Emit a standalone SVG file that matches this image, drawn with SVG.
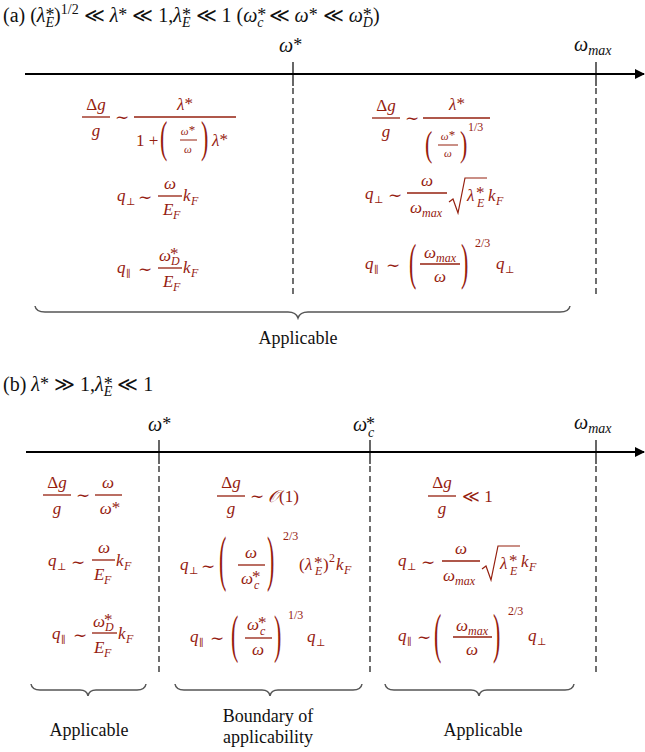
<svg xmlns="http://www.w3.org/2000/svg" width="645" height="752" viewBox="0 0 645 752">
<style>
text { font-family: "Liberation Serif", "DejaVu Serif", serif; }
.m { fill:#95200f; font-size:17px; }
.k { fill:#111; font-size:18px; }
.h { fill:#111; font-size:20px; }
.hs { font-size:14px; }
.ha { font-size:18px; font-style:normal; }
.i { font-style:italic; }
.s { font-size:12px; }
.st { font-size:17px; font-style:normal; }
.t { font-size:11px; }
.ta { font-size:13px; font-style:normal; }
.n { font-style:normal; }
.pr { fill:#95200f; font-size:22px; }
.bar { stroke:#95200f; stroke-width:1.3; }
.bar2 { stroke:#95200f; stroke-width:1; }
.rad { stroke:#95200f; stroke-width:1.2; fill:none; }
.ax { stroke:#000; stroke-width:2; }
.tick { stroke:#000; stroke-width:1.2; }
.dash { stroke:#222; stroke-width:1.3; stroke-dasharray:6 4; fill:none; }
.brace { stroke:#555; stroke-width:1.5; fill:none; }
</style>
<defs>
<marker id="arr" viewBox="0 0 10 10" refX="9" refY="5" markerWidth="5" markerHeight="5" orient="auto"><path d="M0,0 L10,5 L0,10 z" fill="#000"/></marker>
</defs>

<!-- Headers -->
<g id="header-a">
<text class="h" x="3" y="22">(a) (<tspan class="i">λ</tspan><tspan class="ha" dy="-1">*</tspan><tspan class="hs i" dx="-9" dy="6">E</tspan><tspan dy="-5">)</tspan><tspan class="hs" dy="-8">1/2</tspan><tspan dy="8"> ≪ </tspan><tspan class="i">λ</tspan><tspan class="ha" dy="-1">*</tspan><tspan dy="1"> ≪ 1,</tspan><tspan class="i">λ</tspan><tspan class="ha" dy="-1">*</tspan><tspan class="hs i" dx="-9" dy="6">E</tspan><tspan dy="-5"> ≪ 1 (</tspan><tspan class="i">ω</tspan><tspan class="ha" dy="-1">*</tspan><tspan class="hs i" dx="-9" dy="6">c</tspan><tspan dy="-5"> ≪ </tspan><tspan class="i">ω</tspan><tspan class="ha" dy="-1">*</tspan><tspan dy="1"> ≪ </tspan><tspan class="i">ω</tspan><tspan class="ha" dy="-1">*</tspan><tspan class="hs i" dx="-9" dy="6">D</tspan><tspan dy="-5">)</tspan></text>
</g>
<g id="header-b">
<text class="h" x="3" y="391">(b) <tspan class="i">λ</tspan><tspan class="ha" dy="-1">*</tspan><tspan dy="1"> ≫ 1,</tspan><tspan class="i">λ</tspan><tspan class="ha" dy="-1">*</tspan><tspan class="hs i" dx="-9" dy="6">E</tspan><tspan dy="-5"> ≪ 1</tspan></text>
</g>

<!-- Axes and connectors -->
<g id="connectors">
<line class="ax" x1="25" y1="74" x2="644" y2="74" marker-end="url(#arr)"/>
<line class="tick" x1="293" y1="62" x2="293" y2="86"/>
<line class="tick" x1="596" y1="62" x2="596" y2="86"/>
<line class="dash" x1="293" y1="88" x2="293" y2="297"/>
<line class="dash" x1="596" y1="88" x2="596" y2="297"/>
<line class="ax" x1="26" y1="452" x2="644" y2="452" marker-end="url(#arr)"/>
<line class="tick" x1="159" y1="440" x2="159" y2="464"/>
<line class="tick" x1="370" y1="440" x2="370" y2="464"/>
<line class="tick" x1="596" y1="440" x2="596" y2="464"/>
<line class="dash" x1="159" y1="466" x2="159" y2="673"/>
<line class="dash" x1="370" y1="466" x2="370" y2="673"/>
<line class="dash" x1="596" y1="466" x2="596" y2="673"/>
</g>

<!-- Axis labels -->
<g id="labels-a">
<text class="h i" x="279" y="52">ω<tspan class="ha" dy="-1">*</tspan></text>
<text class="h i" x="574" y="51">ω<tspan class="hs" dy="4">max</tspan></text>
</g>
<g id="labels-b">
<text class="h i" x="148" y="431">ω<tspan class="ha" dy="-1">*</tspan></text>
<text class="h i" x="353" y="431">ω</text><text class="ha" style="fill:#111" x="366" y="430">*</text><text class="hs i" style="fill:#111" x="368" y="437">c</text>
<text class="h i" x="574" y="429">ω<tspan class="hs" dy="4">max</tspan></text>
</g>

<!-- Panel (a) left -->
<g id="a-left">
<text class="m" x="96" y="110" text-anchor="middle">Δ<tspan class="i">g</tspan></text>
<text class="m i" x="96" y="136" text-anchor="middle">g</text>
<line class="bar" x1="82" y1="117" x2="110" y2="117"/>
<text class="m" x="122" y="123" text-anchor="middle">∼</text>
<line class="bar" x1="134" y1="117" x2="236" y2="117"/>
<text class="m i" x="185" y="110" text-anchor="middle">λ<tspan class="st" dy="-1">*</tspan></text>
<text class="m" x="136" y="146">1 +</text>
<text class="pr" transform="translate(160,152) scale(1,2.02)">(</text>
<text class="m t i" x="188" y="135" text-anchor="middle">ω<tspan class="ta" dy="-1">*</tspan></text>
<line class="bar2" x1="180" y1="140" x2="197" y2="140"/>
<text class="m t i" x="188" y="153" text-anchor="middle">ω</text>
<text class="pr" transform="translate(201,152) scale(1,2.02)">)</text>
<text class="m i" x="212" y="146">λ<tspan class="st" dy="-1">*</tspan></text>

<text class="m i" x="117" y="201">q</text><text class="m" style="font-size:10px" x="126" y="205">⊥</text>
<text class="m" x="145" y="203" text-anchor="middle">∼</text>
<line class="bar" x1="158" y1="196" x2="182" y2="196"/>
<text class="m i" x="170" y="189" text-anchor="middle">ω</text>
<text class="m i" x="163" y="215">E</text><text class="m s i" x="173" y="219">F</text>
<text class="m i" x="183" y="201">k</text><text class="m s i" x="191" y="205">F</text>

<text class="m i" x="117" y="273">q</text><text class="m" style="font-size:10px" x="126" y="277">∥</text>
<text class="m" x="145" y="275" text-anchor="middle">∼</text>
<line class="bar" x1="158" y1="268" x2="182" y2="268"/>
<text class="m i" x="159" y="261">ω</text><text class="m st" x="170" y="259">*</text><text class="m s i" x="171" y="265">D</text>
<text class="m i" x="163" y="287">E</text><text class="m s i" x="173" y="291">F</text>
<text class="m i" x="183" y="273">k</text><text class="m s i" x="191" y="277">F</text>
</g>

<!-- Panel (a) right -->
<g id="a-right">
<text class="m" x="386" y="111" text-anchor="middle">Δ<tspan class="i">g</tspan></text>
<text class="m i" x="386" y="137" text-anchor="middle">g</text>
<line class="bar" x1="372" y1="118" x2="400" y2="118"/>
<text class="m" x="412" y="124" text-anchor="middle">∼</text>
<line class="bar" x1="423" y1="118" x2="490" y2="118"/>
<text class="m i" x="457" y="110" text-anchor="middle">λ<tspan class="st" dy="-1">*</tspan></text>
<text class="pr" transform="translate(425,156) scale(1,1.6)">(</text>
<text class="m t i" x="448" y="140" text-anchor="middle">ω<tspan class="ta" dy="-1">*</tspan></text>
<line class="bar2" x1="438" y1="145" x2="458" y2="145"/>
<text class="m t i" x="448" y="157" text-anchor="middle">ω</text>
<text class="pr" transform="translate(460,156) scale(1,1.6)">)</text>
<text class="m s" x="468" y="131">1/3</text>

<text class="m i" x="365" y="199">q</text><text class="m" style="font-size:10px" x="374" y="203">⊥</text>
<text class="m" x="395" y="201" text-anchor="middle">∼</text>
<line class="bar" x1="407" y1="193" x2="447" y2="193"/>
<text class="m i" x="427" y="186" text-anchor="middle">ω</text>
<text class="m i" x="410" y="213">ω<tspan class="s" dy="4">max</tspan></text>
<path class="rad" d="M449,202 L453,199 L458,213 L465,178 L487,178"/>
<text class="m i" x="467" y="201">λ</text><text class="m st" x="476" y="198">*</text><text class="m s i" x="477" y="207">E</text>
<text class="m i" x="488" y="201">k</text><text class="m s i" x="496" y="205">F</text>

<text class="m i" x="365" y="269">q</text><text class="m" style="font-size:10px" x="374" y="273">∥</text>
<text class="m" x="393" y="271" text-anchor="middle">∼</text>
<text class="pr" transform="translate(409,279) scale(1,2.29)">(</text>
<line class="bar" x1="420" y1="264" x2="460" y2="264"/>
<text class="m i" x="424" y="258">ω<tspan class="s" dy="4">max</tspan></text>
<text class="m i" x="440" y="282" text-anchor="middle">ω</text>
<text class="pr" transform="translate(461,279) scale(1,2.29)">)</text>
<text class="m s" x="475" y="247">2/3</text>
<text class="m i" x="496" y="269">q</text><text class="m" style="font-size:10px" x="505" y="273">⊥</text>
</g>

<!-- Panel (b) left -->
<g id="b-left">
<text class="m" x="57" y="488" text-anchor="middle">Δ<tspan class="i">g</tspan></text>
<text class="m i" x="57" y="514" text-anchor="middle">g</text>
<line class="bar" x1="43" y1="495" x2="71" y2="495"/>
<text class="m" x="83" y="501" text-anchor="middle">∼</text>
<line class="bar" x1="95" y1="495" x2="122" y2="495"/>
<text class="m i" x="108" y="488" text-anchor="middle">ω</text>
<text class="m i" x="110" y="514" text-anchor="middle">ω<tspan class="st" dy="-1">*</tspan></text>

<text class="m i" x="48" y="566">q</text><text class="m" style="font-size:10px" x="57" y="570">⊥</text>
<text class="m" x="78" y="568" text-anchor="middle">∼</text>
<line class="bar" x1="92" y1="560" x2="115" y2="560"/>
<text class="m i" x="104" y="553" text-anchor="middle">ω</text>
<text class="m i" x="94" y="580">E</text><text class="m s i" x="104" y="584">F</text>
<text class="m i" x="116" y="566">k</text><text class="m s i" x="124" y="570">F</text>

<text class="m i" x="52" y="639">q</text><text class="m" style="font-size:10px" x="61" y="643">∥</text>
<text class="m" x="80" y="641" text-anchor="middle">∼</text>
<line class="bar" x1="92" y1="633" x2="117" y2="633"/>
<text class="m i" x="93" y="627">ω</text><text class="m st" x="104" y="625">*</text><text class="m s i" x="105" y="631">D</text>
<text class="m i" x="94" y="653">E</text><text class="m s i" x="104" y="657">F</text>
<text class="m i" x="118" y="639">k</text><text class="m s i" x="126" y="643">F</text>
</g>

<!-- Panel (b) middle -->
<g id="b-middle">
<text class="m" x="231" y="488" text-anchor="middle">Δ<tspan class="i">g</tspan></text>
<text class="m i" x="231" y="514" text-anchor="middle">g</text>
<line class="bar" x1="217" y1="496" x2="245" y2="496"/>
<text class="m" x="257" y="502" text-anchor="middle">∼</text>
<text class="m" x="268" y="502"><tspan class="i">𝒪</tspan>(1)</text>

<text class="m i" x="180" y="570">q</text><text class="m" style="font-size:10px" x="189" y="574">⊥</text>
<text class="m" x="208" y="572" text-anchor="middle">∼</text>
<text class="pr" transform="translate(219,579) scale(1,2.77)">(</text>
<line class="bar" x1="238" y1="565" x2="265" y2="565"/>
<text class="m i" x="251" y="558" text-anchor="middle">ω</text>
<text class="m i" x="241" y="584">ω</text><text class="m st" x="252" y="582">*</text><text class="m s i" x="254" y="589">c</text>
<text class="pr" transform="translate(267,579) scale(1,2.77)">)</text>
<text class="m s" x="283" y="540">2/3</text>
<text class="m" x="299" y="570">(</text><text class="m i" x="305" y="570">λ</text><text class="m st" x="314" y="568">*</text><text class="m s i" x="315" y="575">E</text><text class="m" x="323" y="570">)</text><text class="m s" x="329" y="562">2</text><text class="m i" x="336" y="570">k</text><text class="m s i" x="344" y="574">F</text>

<text class="m i" x="190" y="642">q</text><text class="m" style="font-size:10px" x="199" y="646">∥</text>
<text class="m" x="217" y="644" text-anchor="middle">∼</text>
<text class="pr" transform="translate(231,652) scale(1,2.4)">(</text>
<line class="bar" x1="245" y1="638" x2="272" y2="638"/>
<text class="m i" x="247" y="630">ω</text><text class="m st" x="258" y="628">*</text><text class="m s i" x="260" y="635">c</text>
<text class="m i" x="258" y="655" text-anchor="middle">ω</text>
<text class="pr" transform="translate(274,652) scale(1,2.4)">)</text>
<text class="m s" x="288" y="619">1/3</text>
<text class="m i" x="307" y="642">q</text><text class="m" style="font-size:10px" x="316" y="646">⊥</text>
</g>

<!-- Panel (b) right -->
<g id="b-right">
<text class="m" x="442" y="488" text-anchor="middle">Δ<tspan class="i">g</tspan></text>
<text class="m i" x="442" y="514" text-anchor="middle">g</text>
<line class="bar" x1="428" y1="496" x2="456" y2="496"/>
<text class="m" x="462" y="502">≪ 1</text>

<text class="m i" x="398" y="566">q</text><text class="m" style="font-size:10px" x="407" y="570">⊥</text>
<text class="m" x="428" y="568" text-anchor="middle">∼</text>
<line class="bar" x1="442" y1="561" x2="480" y2="561"/>
<text class="m i" x="461" y="554" text-anchor="middle">ω</text>
<text class="m i" x="443" y="581">ω<tspan class="s" dy="4">max</tspan></text>
<path class="rad" d="M482,569 L486,566 L491,580 L498,546 L520,546"/>
<text class="m i" x="500" y="569">λ</text><text class="m st" x="509" y="566">*</text><text class="m s i" x="510" y="575">E</text>
<text class="m i" x="521" y="567">k</text><text class="m s i" x="529" y="571">F</text>

<text class="m i" x="398" y="641">q</text><text class="m" style="font-size:10px" x="407" y="645">∥</text>
<text class="m" x="424" y="643" text-anchor="middle">∼</text>
<text class="pr" transform="translate(434,652) scale(1,2.45)">(</text>
<line class="bar" x1="453" y1="637" x2="492" y2="637"/>
<text class="m i" x="456" y="631">ω<tspan class="s" dy="4">max</tspan></text>
<text class="m i" x="472" y="655" text-anchor="middle">ω</text>
<text class="pr" transform="translate(493,652) scale(1,2.45)">)</text>
<text class="m s" x="508" y="615">2/3</text>
<text class="m i" x="528" y="641">q</text><text class="m" style="font-size:10px" x="537" y="645">⊥</text>
</g>

<!-- Braces and captions -->
<g id="brace-a">
<path class="brace" d="M35,306 Q36,312 45,312 L288,312 Q296,312 298,318 Q300,312 308,312 L560,312 Q569,312 570,306"/>
<text class="k" x="298" y="344" text-anchor="middle">Applicable</text>
</g>
<g id="brace-b1">
<path class="brace" d="M31,684 Q32,690 40,690 L80,690 Q87,690 88,696 Q89,690 96,690 L137,690 Q145,690 146,684"/>
<text class="k" x="89" y="736" text-anchor="middle">Applicable</text>
</g>
<g id="brace-b2">
<path class="brace" d="M175,684 Q176,690 184,690 L262,690 Q269,690 270,696 Q271,690 278,690 L353,690 Q361,690 362,684"/>
<text class="k" x="268" y="722" text-anchor="middle">Boundary of</text>
<text class="k" x="268" y="743" text-anchor="middle">applicability</text>
</g>
<g id="brace-b3">
<path class="brace" d="M385,684 Q386,690 394,690 L471,690 Q478,690 479,696 Q480,690 487,690 L565,690 Q573,690 574,684"/>
<text class="k" x="483" y="736" text-anchor="middle">Applicable</text>
</g>
</svg>
